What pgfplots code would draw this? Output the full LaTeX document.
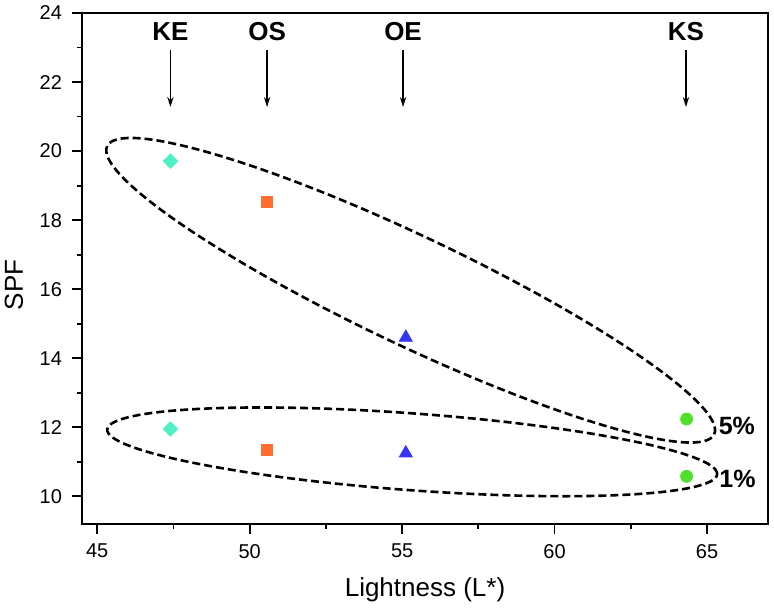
\documentclass[border=0pt]{standalone}
\usepackage{fontspec}
\setmainfont{Liberation Sans}
\usepackage{pgfplots}
\pgfplotsset{compat=1.18}
\usetikzlibrary{arrows.meta}
\definecolor{cKE}{HTML}{4FF0C4}
\definecolor{cOS}{HTML}{FF6E30}
\definecolor{cOE}{HTML}{3535F5}
\definecolor{cKS}{HTML}{4EE02A}
\tikzset{toplab/.style={font=\fontsize{13}{15}\selectfont\bfseries},
  toparr/.style={line width=0.65pt, -{Stealth[length=5pt, width=3.2pt]}}}
\begin{document}
\begin{tikzpicture}
\begin{axis}[
  scale only axis, width=343pt, height=255.5pt,
  xmin=44.5, xmax=67, ymin=9.2, ymax=24,
  xtick={45,50,55,60,65}, ytick={10,12,14,16,18,20,22,24},
  minor x tick num=1, minor y tick num=1,
  tick pos=left, tick align=outside,
  major tick length=5pt, minor tick length=2.5pt,
  every tick/.style={black, line width=0.9pt},
  axis line style={line width=1.1pt},
  /pgf/number format/assume math mode=true,
  tick label style={font=\fontsize{10}{12}\selectfont},
  yticklabel style={xshift=-1.5pt},
  xticklabel style={yshift=-1.5pt},
  label style={font=\fontsize{13}{15}\selectfont},
  xlabel={Lightness (L*)}, ylabel={SPF},
  xlabel style={at={(axis description cs:0.5,0)}, anchor=center, yshift=-33pt},
  ylabel style={at={(axis description cs:-0.0991,0.468)}, anchor=center},
  clip=false,
]
\coordinate (bl) at (rel axis cs:0,0);
\coordinate (tr) at (rel axis cs:1,1);
% 5% series
\addplot[only marks, mark=diamond*, mark size=3.6pt, mark options={xscale=1.33}, color=cKE] coordinates {(47.4,19.71)};
\addplot[only marks, mark=square*, mark size=2.7pt, color=cOS] coordinates {(50.57,18.52)};
\addplot[only marks, mark=triangle*, mark size=3.75pt, color=cOE] coordinates {(55.12,14.6)};
\addplot[only marks, mark=*, mark size=3pt, color=cKS] coordinates {(64.33,12.24)};
% 1% series
\addplot[only marks, mark=diamond*, mark size=3.6pt, mark options={xscale=1.33}, color=cKE] coordinates {(47.4,11.95)};
\addplot[only marks, mark=square*, mark size=2.7pt, color=cOS] coordinates {(50.57,11.35)};
\addplot[only marks, mark=triangle*, mark size=3.75pt, color=cOE] coordinates {(55.12,11.25)};
\addplot[only marks, mark=*, mark size=3pt, color=cKS] coordinates {(64.33,10.58)};
% ellipses
\draw[line width=1.3pt, dash pattern=on 4pt off 2pt, rotate around={-25.4:(axis cs:55.28,15.97)}]
  (axis cs:55.28,15.97) ellipse [x radius=168pt, y radius=27.2pt];
\draw[line width=1.3pt, dash pattern=on 4pt off 2pt, rotate around={-4.2:(axis cs:55.33,11.29)}]
  (axis cs:55.33,11.29) ellipse [x radius=152.9pt, y radius=19.2pt];
% labels
\node[toplab] at (axis cs:47.4,23.45) {KE};
\node[toplab] at (axis cs:50.57,23.45) {OS};
\node[toplab] at (axis cs:55.03,23.45) {OE};
\node[toplab] at (axis cs:64.31,23.45) {KS};
\draw[toparr] (axis cs:47.4,22.93) -- (axis cs:47.4,21.28);
\draw[toparr] (axis cs:50.57,22.93) -- (axis cs:50.57,21.28);
\draw[toparr] (axis cs:55.03,22.93) -- (axis cs:55.03,21.28);
\draw[toparr] (axis cs:64.31,22.93) -- (axis cs:64.31,21.28);
\node[font=\fontsize{12.5}{15}\selectfont\bfseries] at (axis cs:65.98,12.03) {5\%};
\node[font=\fontsize{12.5}{15}\selectfont\bfseries] at (axis cs:66.0,10.52) {1\%};
\end{axis}
\pgfresetboundingbox
\path ([shift={(-41pt,-42.5pt)}]bl) rectangle ([shift={(3pt,6.5pt)}]tr);
\end{tikzpicture}
\end{document}
